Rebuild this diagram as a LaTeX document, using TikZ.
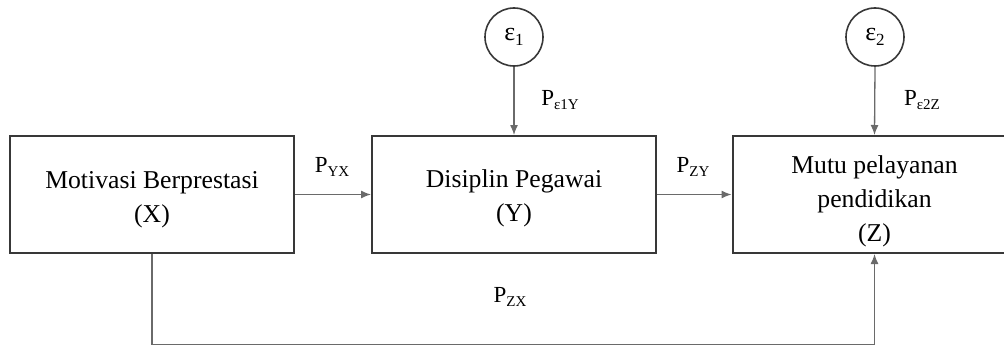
\documentclass[tikz,border=0pt]{standalone}
\usepackage{fontspec}
\setmainfont{Liberation Serif}
\usetikzlibrary{arrows.meta}
\definecolor{boxline}{HTML}{383838}
\definecolor{conline}{HTML}{6A6A6A}
\newcommand{\Psub}[1]{\fontsize{23}{23}\selectfont P\raisebox{-0.4ex}{\fontsize{15}{15}\selectfont #1}}
\begin{document}
\begin{tikzpicture}[x=1pt,y=-1pt,
  varbox/.style={draw=boxline, line width=2pt, minimum width=284pt, minimum height=117pt, inner sep=0pt},
  boxtext/.style={align=center, inner sep=0pt, font=\fontsize{25.7}{34}\selectfont},
  errcirc/.style={draw=boxline, line width=1.6pt, circle, minimum size=58pt, inner sep=0pt, font=\fontsize{26}{26}\selectfont},
  conn/.style={draw=conline, line width=1.3pt, -{Latex[length=10pt,width=8pt]}},
  lbl/.style={inner sep=0pt}]
\useasboundingbox (0,0) rectangle (1004,345);
\clip (0,0) rectangle (1004,345);
\node[varbox, label={[boxtext, yshift=-5pt]center:{Motivasi Berprestasi\\(X)}}] (X) at (152,194.5) {};
\node[varbox, label={[boxtext, yshift=-3.5pt]center:{Disiplin Pegawai\\(Y)}}] (Y) at (514,194.5) {};
\node[varbox, label={[boxtext, yshift=-6.5pt]center:{Mutu pelayanan\\pendidikan\\(Z)}}] (Z) at (874.5,194.5) {};
\node[errcirc] (e1) at (514,37) {ε\raisebox{-0.4ex}{\fontsize{17}{17}\selectfont 1}};
\node[errcirc] (e2) at (875,37) {ε\raisebox{-0.4ex}{\fontsize{17}{17}\selectfont 2}};
\coordinate (bl) at (X.south |- 0,344.5);
\coordinate (br) at (Z.south |- 0,344.5);
\draw[conn] (X.east) -- (Y.west);
\draw[conn] (Y.east) -- (Z.west);
\draw[conn] (e1.south) -- (Y.north);
\draw[conn] (e2.south) -- (Z.north);
\draw[conn] (X.south) -- (bl) -- (br) -- (Z.south);
\node[lbl] (lyx) at (332,167) {\Psub{YX}};
\node[lbl] (lzy) at (693,167) {\Psub{ZY}};
\node[lbl] (le1) at (560,100) {\Psub{ε1Y}};
\node[lbl] (le2) at (922,100) {\Psub{ε2Z}};
\node[lbl] (lzx) at (510,297) {\Psub{ZX}};
\end{tikzpicture}
\end{document}
